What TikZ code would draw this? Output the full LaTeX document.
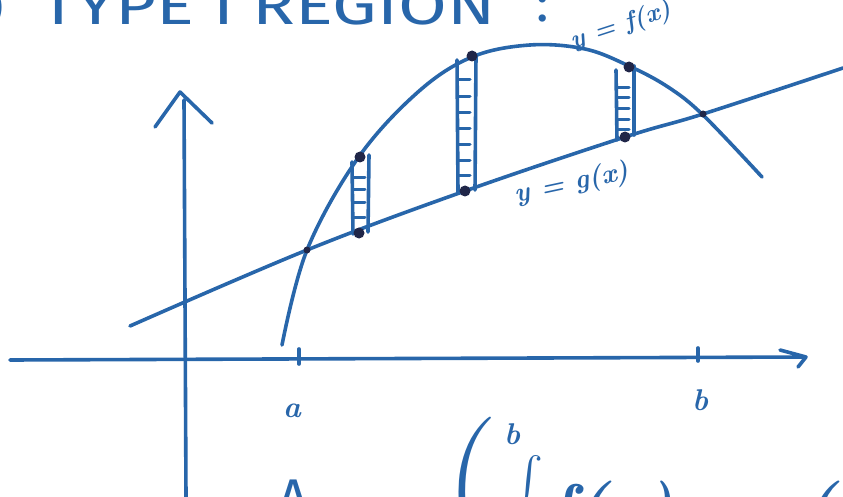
\documentclass[tikz,border=0pt]{standalone}
\usepackage{fontspec}
\setsansfont{Fira Sans}
\definecolor{ink}{RGB}{40,102,170}
\definecolor{dotc}{RGB}{32,38,72}
\begin{document}
\begin{tikzpicture}[x=1pt,y=-1pt,
  inkline/.style={draw=ink,line width=3.6pt,line cap=round,line join=round},
  rung/.style={draw=ink,line width=3pt,line cap=round},
  bigdot/.style={fill=dotc,circle,inner sep=0pt,minimum size=11pt},
  smalldot/.style={fill=dotc,circle,inner sep=0pt,minimum size=7pt},
  lab/.style={text=ink,inner sep=0pt},
  hand/.style={lab,font=\bfseries\itshape}]
\useasboundingbox (0,0) rectangle (843,497);

% title (cut off at the top)
\node[lab,anchor=east] (paren) at (6,8) {\fontsize{40}{40}\selectfont )};
\node[lab,anchor=south west] (title) at (40,25) {\resizebox{455pt}{38pt}{\sffamily TYPE I REGION}};
\node[lab,anchor=base] (colon) at (543,22) {\fontsize{52}{52}\selectfont\sffamily :};

% axes
\draw[inkline] (186,497) -- (184,100);
\draw[inkline] (155,127) -- (180,92) -- (212,123);
\draw[inkline] (10,360) -- (805,357);
\draw[inkline] (780,350) -- (806,357) -- (798,367);

% ticks and labels
\draw[inkline] (299,349) -- (299,364);
\draw[inkline] (698,348) -- (698,361);
\node[hand] (la) at (292,411) {\fontsize{30}{30}\selectfont a};
\node[hand] (lb) at (700,400) {\fontsize{30}{30}\selectfont b};

% line y = g(x)
\draw[inkline] plot[smooth,tension=0.6] coordinates {(130,326) (307,250) (465,191) (625,137) (703,114) (843,68)};
% curve y = f(x)
\draw[inkline] plot[smooth,tension=0.6] coordinates {(282,345) (307,250) (358,158) (418,92) (472,57) (530,45) (585,49) (629,66) (668,87) (703,115) (762,177)};

% strip 1
\draw[inkline] (352,162) -- (353,234);
\draw[inkline] (369,155) -- (368,232);
\foreach \yy in {178,190,203,218} \draw[rung] (353,\yy) -- (365,\yy);
% strip 2
\draw[inkline] (457,60) -- (458,192);
\draw[inkline] (476,55) -- (475,190);
\foreach \yy in {80,97,113,129,145,161,176} \draw[rung] (459,\yy) -- (470,\yy);
% strip 3
\draw[inkline] (616,70) -- (617,140);
\draw[inkline] (634,66) -- (634,135);
\foreach \yy in {88,98,109,120,130} \draw[rung] (617,\yy) -- (629,\yy);

% dots
\node[bigdot] (t1) at (360,157) {};
\node[bigdot] (b1) at (359,233) {};
\node[bigdot] (t2) at (472,56) {};
\node[bigdot] (b2) at (465,191) {};
\node[bigdot] (t3) at (629,67) {};
\node[bigdot] (b3) at (625,137) {};
\node[smalldot] (p1) at (307,250) {};
\node[smalldot] (p2) at (703,114) {};

% curve labels
\node[hand,rotate=18] (lf) at (621,26) {\fontsize{25}{25}\selectfont y = f(x)};
\node[hand,rotate=12] (lg) at (572,184) {\fontsize{27}{27}\selectfont y = g(x)};

% formula at the bottom (cut off)
\node[lab,anchor=north] (A) at (294,480) {\fontsize{56}{56}\selectfont\sffamily A};
\node[lab,anchor=north] (bigp) at (472,417) {\fontsize{150}{150}\selectfont (};
\node[hand,anchor=north] (ub) at (512,423) {\fontsize{30}{30}\selectfont b};
\node[lab,anchor=north] (int) at (528,455) {\scalebox{4.5}{$\int$}};
\node[hand,anchor=base west] (fg) at (548,530) {\fontsize{66}{66}\selectfont f(x) -- g(x)};
\end{tikzpicture}
\end{document}
